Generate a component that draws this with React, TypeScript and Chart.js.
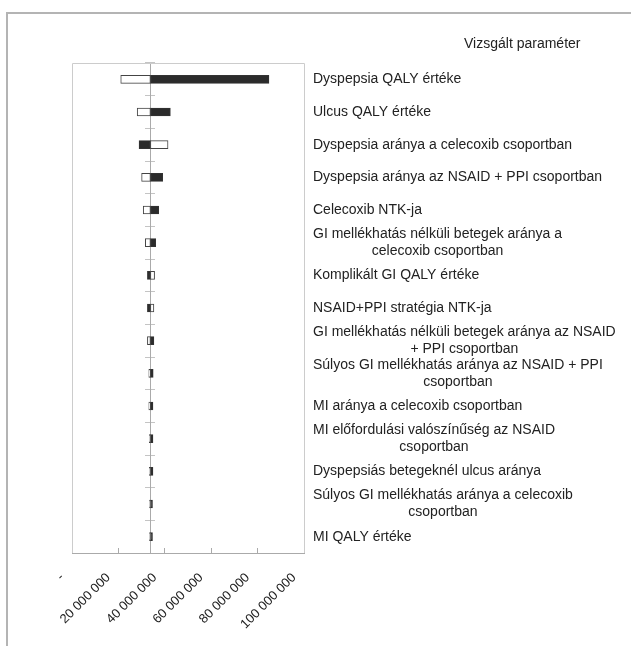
import React, { useEffect, useRef } from 'react';
import { Chart, registerables } from 'chart.js';

Chart.register(...registerables);

// Category labels (each entry = lines of the label)
const categories: string[][] = [
  ['Dyspepsia QALY értéke'],
  ['Ulcus QALY értéke'],
  ['Dyspepsia aránya a celecoxib csoportban'],
  ['Dyspepsia aránya az NSAID + PPI csoportban'],
  ['Celecoxib NTK-ja'],
  ['GI mellékhatás nélküli betegek aránya a', 'celecoxib csoportban'],
  ['Komplikált GI QALY értéke'],
  ['NSAID+PPI stratégia NTK-ja'],
  ['GI mellékhatás nélküli betegek aránya az NSAID', '+ PPI csoportban'],
  ['Súlyos GI mellékhatás aránya az NSAID + PPI', 'csoportban'],
  ['MI aránya a celecoxib csoportban'],
  ['MI előfordulási valószínűség az NSAID', 'csoportban'],
  ['Dyspepsiás betegeknél ulcus aránya'],
  ['Súlyos GI mellékhatás aránya a celecoxib', 'csoportban'],
  ['MI QALY értéke'],
];

// Base-case value (where bars start)
const baseValue = 33.8e6;

// End values of the white bars
const whiteBarValues = [
  21.0e6, 28.1e6, 41.4e6, 30.0e6, 30.7e6, 31.6e6, 35.6e6, 35.3e6,
  32.5e6, 33.1e6, 33.1e6, 33.3e6, 33.3e6, 33.4e6, 33.4e6,
];

// End values of the dark bars
const darkBarValues = [
  84.9e6, 42.4e6, 28.9e6, 39.1e6, 37.4e6, 36.1e6, 32.5e6, 32.5e6,
  35.3e6, 35.0e6, 34.9e6, 34.9e6, 34.9e6, 34.7e6, 34.7e6,
];

const xMin = 0;
const xMax = 100e6;
const xStep = 20e6;

const headerText = 'Vizsgált paraméter';

const FONT = '"Liberation Sans", Arial, sans-serif';
const LABEL_SIZE = 14;
const TEXT_COLOR = '#222';

function formatTick(v: number): string {
  if (v === 0) return '-';
  return String(Math.round(v)).replace(/\B(?=(\d{3})+(?!\d))/g, ' ');
}

const labelPlugin = {
  id: 'sideLabels',
  afterDraw(chart: any) {
    const { ctx, chartArea } = chart;
    const yScale = chart.scales.y;
    ctx.save();
    // plot-area frame (top, left, right)
    ctx.strokeStyle = '#cccccc';
    ctx.lineWidth = 1;
    ctx.beginPath();
    ctx.moveTo(Math.round(chartArea.left) + 0.5, Math.round(chartArea.bottom));
    ctx.lineTo(Math.round(chartArea.left) + 0.5, Math.round(chartArea.top) + 0.5);
    ctx.lineTo(Math.round(chartArea.right) + 0.5, Math.round(chartArea.top) + 0.5);
    ctx.lineTo(Math.round(chartArea.right) + 0.5, Math.round(chartArea.bottom));
    ctx.stroke();

    ctx.fillStyle = TEXT_COLOR;
    ctx.font = `${LABEL_SIZE}px ${FONT}`;
    ctx.textBaseline = 'middle';
    ctx.textAlign = 'center';
    const x0 = chartArea.right + 9;
    const lineH = 17;
    categories.forEach((lines, i) => {
      const yc = yScale.getPixelForValue(i);
      const w = Math.max(...lines.map((l) => ctx.measureText(l).width));
      lines.forEach((line, j) => {
        const y = yc + (j - (lines.length - 1) / 2) * lineH;
        ctx.fillText(line, x0 + w / 2, y);
      });
    });

    ctx.textAlign = 'left';
    ctx.fillText(headerText, 464, 44);
    ctx.restore();
  },
};

export default function App() {
  const canvasRef = useRef<HTMLCanvasElement | null>(null);

  useEffect(() => {
    const canvas = canvasRef.current;
    if (!canvas) return;
    const labels = categories.map((c) => c.join(' '));
    const chart = new Chart(canvas, {
      type: 'bar',
      data: {
        labels,
        datasets: [
          {
            label: 'alacsony',
            data: whiteBarValues.map((v) => [baseValue, v]) as any,
            backgroundColor: '#ffffff',
            borderColor: '#444',
            borderWidth: 1,
            borderSkipped: false,
            barThickness: 8,
            grouped: false,
          } as any,
          {
            label: 'magas',
            data: darkBarValues.map((v) => [baseValue, v]) as any,
            backgroundColor: '#2b2b2b',
            borderColor: '#333',
            borderWidth: 1,
            borderSkipped: false,
            barThickness: 8,
            grouped: false,
          } as any,
        ],
      },
      options: {
        indexAxis: 'y',
        responsive: false,
        animation: false,
        devicePixelRatio: 1,
        layout: { padding: { left: 72, top: 63, right: 327, bottom: 0 } },
        plugins: {
          legend: { display: false },
          tooltip: { enabled: false },
          title: { display: false },
        },
        scales: {
          x: {
            type: 'linear',
            min: xMin,
            max: xMax,
            afterFit: (s: any) => {
              s.height = 93;
            },
            ticks: {
              stepSize: xStep,
              autoSkip: false,
              minRotation: 45,
              maxRotation: 45,
              padding: 22,
              labelOffset: -10,
              color: TEXT_COLOR,
              font: { family: FONT, size: 13 },
              callback: (v: any) => formatTick(Number(v)),
            },
            grid: {
              drawOnChartArea: false,
              drawTicks: true,
              tickLength: -5,
              color: '#aaa',
            },
            border: { color: '#aaa' },
          },
          y: {
            type: 'category',
            position: { x: baseValue } as any,
            offset: true,
            ticks: { display: false },
            grid: {
              drawOnChartArea: false,
              offset: true,
              tickLength: 5,
              color: '#c4c4c4',
            },
            border: { color: '#aaa' },
          },
          y2: {
            type: 'category',
            axis: 'y',
            position: { x: baseValue } as any,
            offset: true,
            ticks: { display: false },
            grid: {
              drawOnChartArea: false,
              offset: true,
              tickLength: -5,
              color: '#c4c4c4',
            },
            border: { display: false },
          } as any,
        },
      } as any,
      plugins: [labelPlugin],
    });
    return () => chart.destroy();
  }, []);

  return (
    <div style={{ position: 'absolute', left: 0, top: 0, width: 631, height: 646, overflow: 'hidden', background: '#fff' }}>
      <div
        style={{
          position: 'absolute',
          left: 6,
          top: 12,
          width: 700,
          height: 700,
          border: '2px solid #b4b4b4',
        }}
      />
      <canvas
        ref={canvasRef}
        width={631}
        height={646}
        style={{ position: 'absolute', left: 0, top: 0, width: 631, height: 646 }}
      />
    </div>
  );
}
